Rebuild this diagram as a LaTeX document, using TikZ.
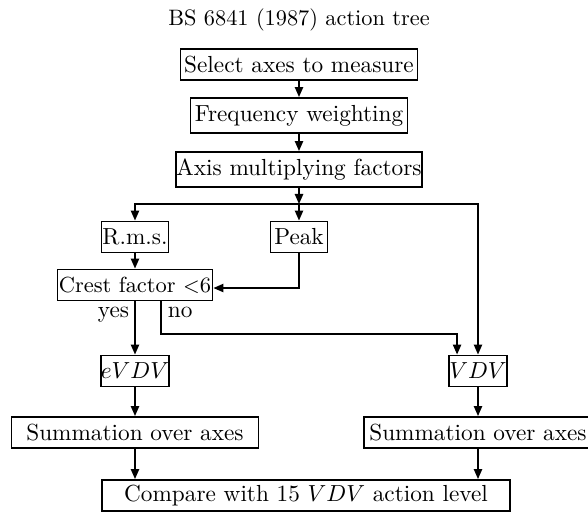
\documentclass[tikz,border=0pt]{standalone}
\usetikzlibrary{arrows.meta}
\newcommand\pxl{0.43pt}
\begin{document}
\begin{tikzpicture}
  [x=0.43pt,y=-0.43pt,
   box/.style={draw,line width=0.85pt,inner sep=0pt,minimum height=31*\pxl},
   link/.style={line width=0.6pt,-{Triangle[length=4.3pt,width=3.6pt]}},
   tag/.style={inner sep=0pt}]
  \useasboundingbox (0,0) rectangle (588,512);
  \clip (0,0) rectangle (588,512);
  \node (title) at (299,20) {\fontsize{9.6}{11}\selectfont BS 6841 (1987) action tree};
  \node[box,minimum width=237*\pxl] (select) at (299,64.5) {Select axes to measure};
  \node[box,minimum width=217*\pxl,minimum height=35*\pxl] (freq) at (299,115.5) {Frequency weighting};
  \node[box,minimum width=244*\pxl,minimum height=35*\pxl] (factors) at (299,169.5) {Axis multiplying factors};
  \node[box,minimum width=67*\pxl] (rms) at (135,237) {R.m.s.};
  \node[box,minimum width=57*\pxl] (peak) at (299,237) {Peak};
  \node[box,minimum width=155*\pxl] (crest) at (135,285) {\fontsize{9.4}{11}\selectfont Crest factor $<$6};
  \node[box,minimum width=65*\pxl] (evdv) at (135,371) {$eVDV$};
  \node[box,minimum width=56*\pxl] (vdv) at (478,371) {$VDV$};
  \node[box,minimum width=247*\pxl] (suml) at (135,432.5) {Summation over axes};
  \node[box,minimum width=228*\pxl] (sumr) at (478,432.5) {Summation over axes};
  \node[box,minimum width=408*\pxl] (compare) at (306,495.5) {Compare with 15 $VDV$ action level};
  \node[tag,anchor=base east] (yes) at (129.5,318) {yes};
  \node[tag,anchor=base west] (no) at (167.5,318) {no};
  \coordinate (split) at (299,204);
  \coordinate (nobend) at (161,334);
  \foreach \from/\to in {select/freq,freq/factors,split/peak,rms/crest,crest/evdv,evdv/suml,vdv/sumr}
    \draw[link] (\from) -- (\to);
  \draw[link] (factors) -- (split);
  \draw[link] (split) -| (rms);
  \draw[link] (split) -| (vdv);
  \draw[link] (peak) |- ([yshift=-1.3pt]crest.east);
  \draw[link] (crest.south -| nobend) -- (nobend) -| ([xshift=-9pt]vdv.north);
  \draw[link] (suml) -- (suml.south |- compare.north);
  \draw[link] (sumr) -- (sumr.south |- compare.north);
\end{tikzpicture}
\end{document}
